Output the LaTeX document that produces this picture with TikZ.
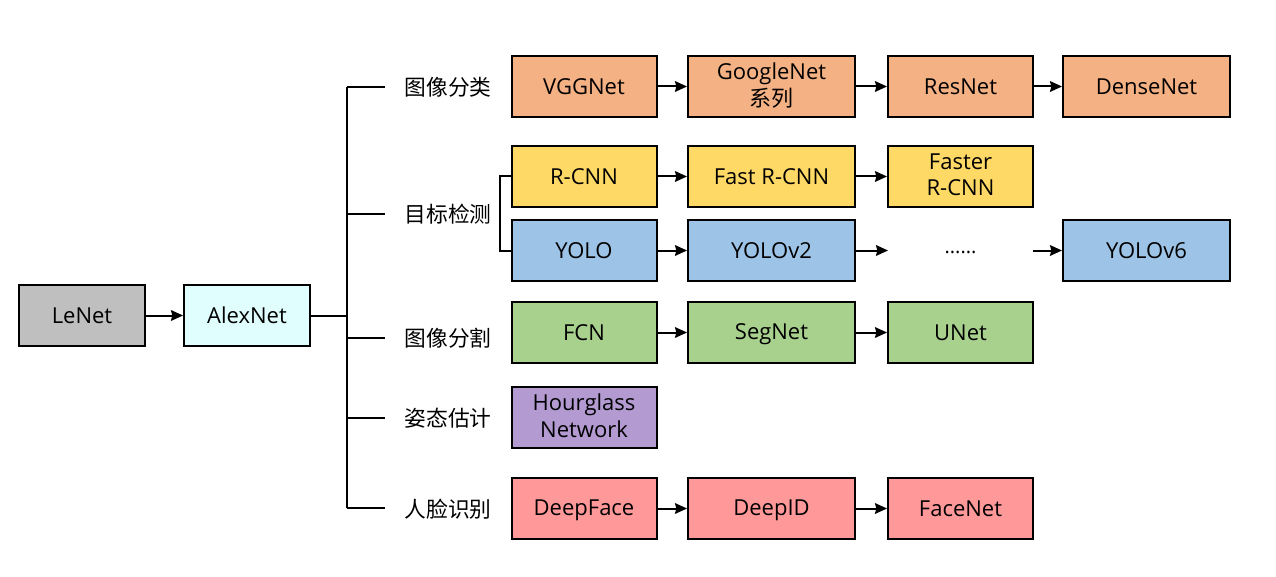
\documentclass[tikz,border=0pt]{standalone}
\usepackage{fontspec}
\setmainfont{Open Sans}
\newfontfamily\cjk{Noto Sans CJK SC}
\usetikzlibrary{arrows.meta}
\definecolor{cgray}{HTML}{BFBFBF}
\definecolor{ccyan}{HTML}{E0FEFE}
\definecolor{corange}{HTML}{F4B183}
\definecolor{cyellow}{HTML}{FFD966}
\definecolor{cblue}{HTML}{9DC3E6}
\definecolor{cgreen}{HTML}{A9D18E}
\definecolor{cpurple}{HTML}{B39BD2}
\definecolor{cred}{HTML}{FF9999}
\newcommand{\mystrut}{\rule[-3pt]{0pt}{18pt}}
\tikzset{
  box/.style={draw, line width=1.5pt, minimum height=45.75pt, inner sep=0pt, align=center,
    font=\fontsize{16.5pt}{20pt}\selectfont, execute at begin node=\mystrut},
  narrow/.style={box, minimum width=108.75pt},
  wide/.style={box, minimum width=125.25pt},
  small/.style={box, minimum width=94.5pt},
  lab/.style={font=\cjk\fontsize{16.3pt}{19pt}\selectfont, inner sep=0pt},
  conn/.style={line width=1.5pt},
  arr/.style={line width=1.5pt, -{Stealth[length=9pt,width=8pt,inset=1pt]}},
}
\begin{document}
\begin{tikzpicture}[x=0.75pt,y=-0.75pt]
\useasboundingbox (0,0) rectangle (1276,577);
% left
\node[small, fill=cgray] (lenet) at (82,315.5) {LeNet};
\node[small, fill=ccyan] (alex) at (247,315.5) {AlexNet};
\draw[arr] (lenet) -- (alex);
\coordinate (bt) at (347,87);
\coordinate (bb) at (347,508);
\coordinate (bm) at (347,315.5);
\draw[conn] (alex.east) -- (bm);
\draw[conn] (bt) -- (bb);
% labels
\node[lab] (l1) at (448,87) {图像分类};
\node[lab] (l2) at (448,214) {目标检测};
\node[lab] (l3) at (448,338) {图像分割};
\node[lab] (l4) at (448,418) {姿态估计};
\node[lab] (l5) at (448,509) {人脸识别};
\foreach \y/\n in {87/1,214/2,338/3,418/4,508/5}{
  \coordinate (s\n) at (385,\y);
  \draw[conn] (347,\y) -- (s\n);
}
% row 1
\node[narrow, fill=corange] (vgg) at (584,86.5) {VGGNet};
\node[wide, fill=corange] (goog) at (771.5,86.5) {GoogleNet\\{\cjk 系列}};
\node[narrow, fill=corange] (res) at (960.5,86.5) {ResNet};
\node[wide, fill=corange] (dense) at (1146.5,86.5) {DenseNet};
\draw[arr] (vgg) -- (goog);
\draw[arr] (goog) -- (res);
\draw[arr] (res) -- (dense);
% row 2
\node[narrow, fill=cyellow] (rcnn) at (584,176.5) {R-CNN};
\node[wide, fill=cyellow] (fast) at (771.5,176.5) {Fast R-CNN};
\node[narrow, fill=cyellow] (faster) at (960.5,176.5) {Faster\\R-CNN};
\draw[arr] (rcnn) -- (fast);
\draw[arr] (fast) -- (faster);
% row 3
\node[narrow, fill=cblue] (yolo) at (584,250.5) {YOLO};
\node[wide, fill=cblue] (yolo2) at (771.5,250.5) {YOLOv2};
\node[font=\fontsize{15pt}{19pt}\selectfont, inner sep=0pt] (dots) at (960.5,252) {......};
\node[wide, fill=cblue] (yolo6) at (1146.5,250.5) {YOLOv6};
\coordinate (d1) at (888,250.5);
\coordinate (d2) at (1033,250.5);
\draw[arr] (yolo) -- (yolo2);
\draw[arr] (yolo2) -- (d1);
\draw[arr] (d2) -- (yolo6);
% bracket
\draw[conn] (rcnn.west) -- (500,176.5) -- (500,250.5) -- (yolo.west);
% row 4
\node[narrow, fill=cgreen] (fcn) at (584,332.5) {FCN};
\node[wide, fill=cgreen] (seg) at (771.5,332.5) {SegNet};
\node[narrow, fill=cgreen] (unet) at (960.5,332.5) {UNet};
\draw[arr] (fcn) -- (seg);
\draw[arr] (seg) -- (unet);
% row 5
\node[narrow, fill=cpurple] (hour) at (584,417.5) {Hourglass\\Network};
% row 6
\node[narrow, fill=cred] (df) at (584,508.5) {DeepFace};
\node[wide, fill=cred] (did) at (771.5,508.5) {DeepID};
\node[narrow, fill=cred] (fn) at (960.5,508.5) {FaceNet};
\draw[arr] (df) -- (did);
\draw[arr] (did) -- (fn);
\end{tikzpicture}
\end{document}
